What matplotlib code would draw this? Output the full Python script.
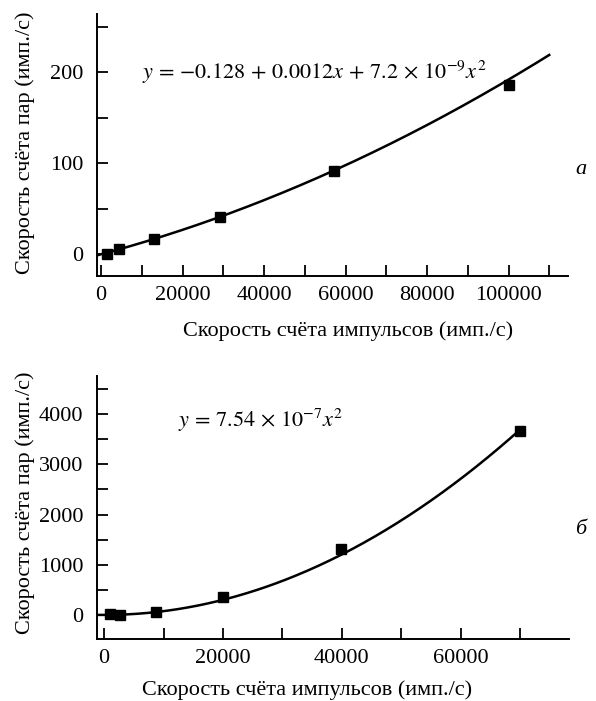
import numpy as np
import matplotlib
matplotlib.use("Agg")
import matplotlib.pyplot as plt
from matplotlib.ticker import MultipleLocator

plt.rcParams['font.family'] = ['Liberation Serif', 'DejaVu Serif']
plt.rcParams['mathtext.fontset'] = 'stix'

# Panel a data
xa = [1500, 4400, 12900, 29200, 57200, 100200]
ya = [0, 5.5, 17, 41, 91, 186]
coef_a = [-0.128, 0.0012, 7.2e-9]
eq_a = r'$y\,=\,{-}0.128\,+\,0.0012x\,+\,7.2\,\times\,10^{-9}x^2$'

# Panel b data
xb = [900, 2700, 8700, 20000, 39900, 70000]
yb = [15, 0, 60, 365, 1310, 3660]
coef_b = [0.0, 0.0, 7.54e-7]
eq_b = r'$y\,=\,7.54\,\times\,10^{-7}x^2$'

xlabel = 'Скорость счёта импульсов (имп./с)'
ylabel = 'Скорость счёта пар (имп./с)'

fig = plt.figure(figsize=(5.96, 7.01), dpi=100)
axa = fig.add_axes([0.1628, 0.6063, 0.953 - 0.1628, 0.980 - 0.6063])
axb = fig.add_axes([0.1628, 0.0884, 0.9547 - 0.1628, 0.4636 - 0.0884])

FS = 16

def style(ax, xmaj, xmin, ymaj, ymin, xlab_pos, ylab_pos):
    for s in ['top', 'right']:
        ax.spines[s].set_visible(False)
    for s in ['left', 'bottom']:
        ax.spines[s].set_linewidth(1.4)
    ax.xaxis.set_major_locator(MultipleLocator(xmaj))
    ax.xaxis.set_minor_locator(MultipleLocator(xmin))
    ax.yaxis.set_major_locator(MultipleLocator(ymaj))
    ax.yaxis.set_minor_locator(MultipleLocator(ymin))
    ax.tick_params(axis='both', which='both', direction='in', length=8, width=1.3,
                   labelsize=FS)
    ax.tick_params(axis='x', which='major', pad=7)
    ax.tick_params(axis='y', which='major', pad=10)
    ax.set_xlabel(xlabel, fontsize=FS, va='center', ha='center')
    ax.set_ylabel(ylabel, fontsize=FS, va='center', ha='center')
    ax.xaxis.set_label_coords(*xlab_pos)
    ax.yaxis.set_label_coords(*ylab_pos)

# Panel a
xa_line = np.linspace(-1000, 110000, 300)
axa.plot(xa_line, np.polyval(coef_a[::-1], xa_line), color='black', lw=1.8)
axa.plot(xa, ya, 's', color='black', ms=7)
axa.set_xlim(-1000, 114600)
axa.set_ylim(-24, 264)
style(axa, 20000, 10000, 100, 50, (0.533, -0.21), (-0.153, 0.51))
axa.text(0.095, 0.752, eq_a, transform=axa.transAxes, fontsize=FS, ha='left', va='baseline')
fig.text(0.975, 1 - 170 / 701, 'a', fontsize=FS, style='italic', ha='center', va='center')

# Panel b
xb_line = np.linspace(-1000, 70000, 300)
axb.plot(xb_line, np.polyval(coef_b[::-1], xb_line), color='black', lw=1.8)
axb.plot(xb, yb, 's', color='black', ms=7)
axb.set_xlim(-1200, 78200)
axb.set_ylim(-480, 4760)
style(axb, 20000, 10000, 1000, 500, (0.445, -0.194), (-0.153, 0.517))
axb.text(0.172, 0.806, eq_b, transform=axb.transAxes, fontsize=FS, ha='left', va='baseline')
fig.text(0.975, 1 - 530 / 701, 'б', fontsize=FS, style='italic', ha='center', va='center')

fig.savefig('out.png', dpi=100)
